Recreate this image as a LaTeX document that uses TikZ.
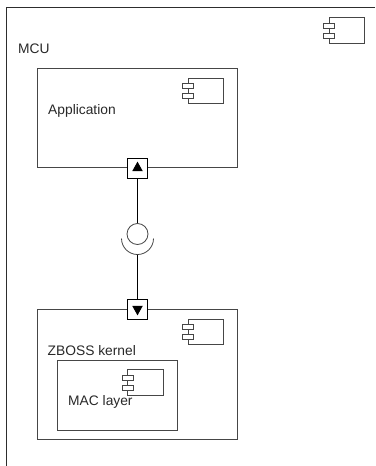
\documentclass[tikz,border=0pt]{standalone}
\usepackage{xcolor}
\usepackage{fontspec}
\setmainfont{Liberation Sans}
\usetikzlibrary{positioning,calc,shapes.geometric}
\definecolor{framegray}{RGB}{45,45,45}
\definecolor{boxgray}{RGB}{70,70,70}
\definecolor{labelgray}{RGB}{40,40,40}
\tikzset{
  compbox/.style={draw=boxgray, line width=0.9pt, minimum width=#1, anchor=north west, inner sep=0pt},
  portbox/.style={draw=black, line width=0.9pt, fill=white, minimum size=20pt, inner sep=0pt},
  porttip/.style={fill=black, isosceles triangle, isosceles triangle stretches, minimum width=10.5pt, minimum height=9.5pt, inner sep=0pt},
  boxlabel/.style={anchor=base west, inner sep=0pt, text=labelgray, font=\fontsize{13.8}{16}\selectfont},
  compicon/.pic={
    \draw[boxgray, line width=0.8pt, fill=white] (0,0) rectangle (35.5,25.5);
    \draw[boxgray, line width=0.8pt, fill=white] (-5.5,5.5) rectangle (5.5,10.5);
    \draw[boxgray, line width=0.8pt, fill=white] (-5.5,15.5) rectangle (5.5,20.5);
  }
}
\begin{document}
\begin{tikzpicture}[x=1pt,y=-1pt]
\useasboundingbox (0,0) rectangle (375,466);
\draw[framegray, line width=1pt] (375,7.5) -- (6.5,7.5) -- (6.5,466);
\node[boxlabel] (mcu) at (18,53) {MCU};
\pic at (329,17.5) {compicon};
% application
\node[compbox=200pt, minimum height=99pt] (app) at (37,68) {};
\node[boxlabel] (applabel) at (48,114) {Application};
\pic at (188,78) {compicon};
% zboss and mac
\node[compbox=200pt, minimum height=130pt] (zboss) at (37,309) {};
\node[boxlabel] (zbosslabel) at (47.5,355) {ZBOSS kernel};
\pic at (188,319) {compicon};
\node[compbox=120pt, minimum height=69.5pt] (mac) at (57,360) {};
\pic at (127.5,369.5) {compicon};
\node[boxlabel] (maclabel) at (68,405) {MAC layer};
% ports
\node[portbox] (appport) at (137.5,168) {};
\node[porttip, shape border rotate=90] (apptip) at (appport.center) {};
\node[portbox] (zbossport) at (137.5,309) {};
\node[porttip, shape border rotate=270] (zbosstip) at (zbossport.center) {};
% ball and socket
\node[draw=boxgray, circle, line width=0.8pt, minimum size=21pt, inner sep=0pt] (ball) at (137.5,234) {};
\coordinate (socket) at (137.5,254.5);
\draw[boxgray, line width=0.8pt] (121.5,238.5) arc[start angle=180, end angle=360, x radius=16pt, y radius=16pt];
\draw[black, line width=0.8pt] (appport) -- (ball);
\draw[black, line width=0.8pt] (socket) -- (zbossport);
\end{tikzpicture}
\end{document}
